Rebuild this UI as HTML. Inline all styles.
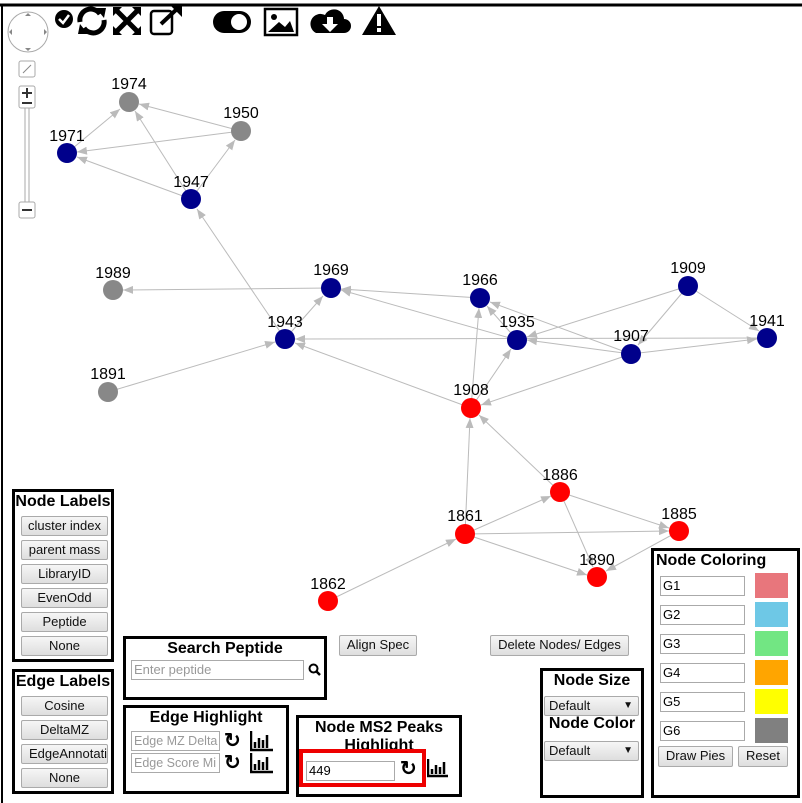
<!DOCTYPE html>
<html><head><style>
body{margin:0;width:802px;height:803px;overflow:hidden;background:#fff;font-family:"Liberation Sans",sans-serif;position:relative}
.box{position:absolute;border:3px solid #000;box-sizing:border-box;background:#fff}
.h{font-weight:bold;font-size:16px;text-align:center;color:#000}
.btn{position:absolute;background:linear-gradient(#f6f6f6,#dedede);border:1px solid #aaa;border-radius:2px;font-size:13px;text-align:center;line-height:18px;box-sizing:border-box;height:20px;color:#111;white-space:nowrap;overflow:hidden}
.inp{position:absolute;border:1px solid #aaa;box-sizing:border-box;height:20px;font-size:13px;line-height:18px;padding-left:2px;color:#999;background:#fff;white-space:nowrap;overflow:hidden}
.sw{position:absolute;width:33px;height:25px}
</style></head><body>
<svg width="802" height="803" style="position:absolute;left:0;top:0">
<defs><marker id="a" markerWidth="10" markerHeight="8" refX="10" refY="4" orient="auto" markerUnits="userSpaceOnUse"><path d="M0,0L10,4L0,8z" fill="#bbb"/></marker></defs>
<line x1="0" y1="5" x2="802" y2="5" stroke="#000" stroke-width="3"/>
<line x1="2" y1="5" x2="2" y2="803" stroke="#000" stroke-width="2"/>
<g stroke="#bbb" stroke-width="1" marker-end="url(#a)">
<line x1="67" y1="153" x2="120" y2="109"/>
<line x1="241" y1="131" x2="139" y2="104"/>
<line x1="241" y1="131" x2="77" y2="152"/>
<line x1="191" y1="199" x2="77" y2="157"/>
<line x1="191" y1="199" x2="135" y2="111"/>
<line x1="191" y1="199" x2="235" y2="140"/>
<line x1="285" y1="339" x2="197" y2="209"/>
<line x1="331" y1="288" x2="123" y2="290"/>
<line x1="285" y1="339" x2="323" y2="296"/>
<line x1="480" y1="298" x2="341" y2="289"/>
<line x1="517" y1="340" x2="341" y2="290"/>
<line x1="767" y1="338" x2="295" y2="339"/>
<line x1="631" y1="354" x2="527" y2="340"/>
<line x1="688" y1="286" x2="527" y2="337"/>
<line x1="688" y1="286" x2="638" y2="345"/>
<line x1="688" y1="286" x2="759" y2="331"/>
<line x1="631" y1="354" x2="757" y2="339"/>
<line x1="631" y1="354" x2="490" y2="302"/>
<line x1="517" y1="340" x2="487" y2="306"/>
<line x1="631" y1="354" x2="481" y2="405"/>
<line x1="471" y1="408" x2="511" y2="349"/>
<line x1="471" y1="408" x2="479" y2="308"/>
<line x1="471" y1="408" x2="295" y2="343"/>
<line x1="108" y1="392" x2="275" y2="342"/>
<line x1="465" y1="534" x2="470" y2="418"/>
<line x1="560" y1="492" x2="479" y2="415"/>
<line x1="465" y1="534" x2="551" y2="496"/>
<line x1="560" y1="492" x2="669" y2="528"/>
<line x1="560" y1="492" x2="593" y2="567"/>
<line x1="465" y1="534" x2="669" y2="531"/>
<line x1="465" y1="534" x2="587" y2="575"/>
<line x1="679" y1="531" x2="606" y2="571"/>
<line x1="328" y1="601" x2="456" y2="539"/>
</g>
<g>
<circle cx="129" cy="102" r="10" fill="#888"/><circle cx="241" cy="131" r="10" fill="#888"/>
<circle cx="67" cy="153" r="10" fill="#00008b"/><circle cx="191" cy="199" r="10" fill="#00008b"/>
<circle cx="113" cy="290" r="10" fill="#888"/><circle cx="331" cy="288" r="10" fill="#00008b"/>
<circle cx="480" cy="298" r="10" fill="#00008b"/><circle cx="688" cy="286" r="10" fill="#00008b"/>
<circle cx="767" cy="338" r="10" fill="#00008b"/><circle cx="285" cy="339" r="10" fill="#00008b"/>
<circle cx="517" cy="340" r="10" fill="#00008b"/><circle cx="631" cy="354" r="10" fill="#00008b"/>
<circle cx="108" cy="392" r="10" fill="#888"/><circle cx="471" cy="408" r="10" fill="#f00"/>
<circle cx="560" cy="492" r="10" fill="#f00"/><circle cx="679" cy="531" r="10" fill="#f00"/>
<circle cx="465" cy="534" r="10" fill="#f00"/><circle cx="597" cy="577" r="10" fill="#f00"/>
<circle cx="328" cy="601" r="10" fill="#f00"/>
</g>
<g font-family="Liberation Sans" font-size="16" text-anchor="middle" fill="#000">
<text x="129" y="89">1974</text><text x="241" y="118">1950</text><text x="67" y="141">1971</text>
<text x="191" y="187">1947</text><text x="113" y="278">1989</text><text x="331" y="275">1969</text>
<text x="480" y="285">1966</text><text x="688" y="273">1909</text><text x="767" y="326">1941</text>
<text x="285" y="327">1943</text><text x="517" y="327">1935</text><text x="631" y="341">1907</text>
<text x="108" y="379">1891</text><text x="471" y="395">1908</text><text x="560" y="480">1886</text>
<text x="679" y="519">1885</text><text x="465" y="521">1861</text><text x="597" y="565">1890</text>
<text x="328" y="589">1862</text>
</g>
<!-- navigator -->
<circle cx="28" cy="32" r="20" fill="#fff" stroke="#aaa"/>
<path d="M25,16L31,16L28,13z M25,48L31,48L28,51z M12,29L12,35L9,32z M44,29L44,35L47,32z" fill="#888"/>
<rect x="19" y="61" width="16" height="16" rx="2" fill="#fff" stroke="#aaa"/>
<path d="M23,73L31,65" stroke="#888"/>
<rect x="19" y="86" width="16" height="22" rx="2" fill="#fff" stroke="#aaa"/>
<path d="M22,93H32M27,88V98M22,103H32" stroke="#333" stroke-width="2"/>
<rect x="25" y="108" width="4" height="95" fill="#fff" stroke="#aaa"/>
<rect x="19" y="202" width="16" height="16" rx="2" fill="#fff" stroke="#aaa"/>
<path d="M22,210H32" stroke="#333" stroke-width="2"/>
<!-- toolbar icons -->
<circle cx="64" cy="19" r="9" fill="#000"/><path d="M59,19L63,23L69,15" stroke="#fff" stroke-width="2.5" fill="none"/>
<path d="M80,22A11,11 0 0 1 100,14M104,20A11,11 0 0 1 84,28" stroke="#000" stroke-width="5" fill="none"/>
<path d="M96,8L106,8L104,18z M88,34L78,34L80,24z" fill="#000"/>
<path d="M116,10L138,32M138,10L116,32" stroke="#000" stroke-width="5"/>
<path d="M113,7h9l-9,9z M141,7v9l-9,-9z M113,35v-9l9,9z M141,35h-9l9,-9z" fill="#000"/>
<rect x="151" y="11" width="21" height="23" rx="3" fill="none" stroke="#000" stroke-width="2.5"/>
<path d="M161,24L178,8" stroke="#000" stroke-width="4"/><path d="M170,5h12v12z" fill="#000"/>
<rect x="213" y="11" width="38" height="22" rx="11" fill="#000"/><circle cx="239" cy="22" r="8" fill="#fff"/>
<rect x="265" y="9" width="32" height="26" fill="none" stroke="#000" stroke-width="2.5"/>
<circle cx="274" cy="17" r="3" fill="#000"/><path d="M268,32L279,22L285,27L290,21L294,32z" fill="#000"/>
<path d="M316,33h28a7,7 0 0 0 0,-14a10,10 0 0 0 -19,-4a8,8 0 0 0 -9,18z" fill="#000"/>
<path d="M327,17h6v7h5l-8,8l-8,-8h5z" fill="#fff"/>
<path d="M379,6L396,35H362z" fill="#000"/><rect x="377" y="14" width="4" height="12" fill="#fff"/><rect x="377" y="28" width="4" height="4" fill="#fff"/>
</svg>

<div class="box" style="left:12px;top:489px;width:102px;height:173px">
<div class="h" style="margin-top:1px">Node Labels</div>
<div class="btn" style="left:6px;top:24px;width:87px">cluster index</div>
<div class="btn" style="left:6px;top:48px;width:87px">parent mass</div>
<div class="btn" style="left:6px;top:72px;width:87px">LibraryID</div>
<div class="btn" style="left:6px;top:96px;width:87px">EvenOdd</div>
<div class="btn" style="left:6px;top:120px;width:87px">Peptide</div>
<div class="btn" style="left:6px;top:144px;width:87px">None</div>
</div>
<div class="box" style="left:12px;top:669px;width:102px;height:125px">
<div class="h" style="margin-top:1px">Edge Labels</div>
<div class="btn" style="left:6px;top:24px;width:87px">Cosine</div>
<div class="btn" style="left:6px;top:48px;width:87px">DeltaMZ</div>
<div class="btn" style="left:6px;top:72px;width:87px;text-align:left;padding-left:7px">EdgeAnnotati</div>
<div class="btn" style="left:6px;top:96px;width:87px">None</div>
</div>
<div class="box" style="left:123px;top:636px;width:204px;height:64px">
<div class="h" style="margin-top:1px">Search Peptide</div>
<div class="inp" style="left:5px;top:21px;width:173px">Enter peptide</div>
<svg style="position:absolute;left:182px;top:24px" width="14" height="14"><circle cx="5.5" cy="5.5" r="4" fill="none" stroke="#000" stroke-width="2"/><path d="M8.5,8.5L12,12" stroke="#000" stroke-width="2.5"/></svg>
</div>
<div class="btn" style="left:339px;top:635px;width:78px;height:21px">Align Spec</div>
<div class="btn" style="left:490px;top:635px;width:139px;height:21px">Delete Nodes/ Edges</div>
<div class="box" style="left:123px;top:705px;width:166px;height:89px">
<div class="h" style="margin-top:1px">Edge Highlight</div>
<div class="inp" style="left:5px;top:23px;width:89px;font-size:12.5px">Edge MZ Delta</div>
<div class="inp" style="left:5px;top:45px;width:89px;font-size:12.5px">Edge Score Mi</div>
<div style="position:absolute;left:98px;top:20px;font-size:20px;font-weight:bold">&#x21bb;</div>
<div style="position:absolute;left:98px;top:42px;font-size:20px;font-weight:bold">&#x21bb;</div>
<svg style="position:absolute;left:124px;top:22px" width="24" height="44"><path d="M1,1V20H23M5,18V12M9,18V8M13,18V10M17,18V5M1,23V42H23M5,40V34M9,40V30M13,40V32M17,40V27" stroke="#000" stroke-width="2.5" fill="none"/></svg>
</div>
<div class="box" style="left:296px;top:715px;width:166px;height:82px">
<div class="h" style="margin-top:1px;line-height:18px">Node MS2 Peaks<br>Highlight</div>
<div style="position:absolute;left:0px;top:31px;width:127px;height:38px;border:4px solid #e00;box-sizing:border-box;background:#fff">
<div class="inp" style="left:3px;top:8px;width:89px;color:#000">449</div>
<div style="position:absolute;left:97px;top:3px;font-size:20px;font-weight:bold">&#x21bb;</div>
</div>
<svg style="position:absolute;left:128px;top:40px" width="22" height="20"><path d="M1,1V18H21M5,16V11M9,16V7M13,16V9M17,16V4" stroke="#000" stroke-width="2.5" fill="none"/></svg>
</div>
<div class="box" style="left:540px;top:668px;width:104px;height:130px">
<div class="h" style="margin-top:1px">Node Size</div>
<div class="btn" style="left:1px;top:25px;width:95px;text-align:left;padding-left:4px">Default<span style="position:absolute;right:5px;font-size:10px">&#9660;</span></div>
<div class="h" style="margin-top:25px">Node Color</div>
<div class="btn" style="left:1px;top:70px;width:95px;text-align:left;padding-left:4px">Default<span style="position:absolute;right:5px;font-size:10px">&#9660;</span></div>
</div>
<div class="box" style="left:651px;top:548px;width:149px;height:250px">
<div class="h" style="text-align:left;padding-left:2px;margin-top:1px">Node Coloring</div>
<div class="inp" style="left:6px;top:25px;width:85px;color:#000">G1</div><div class="sw" style="left:101px;top:22px;background:#e8767c"></div>
<div class="inp" style="left:6px;top:54px;width:85px;color:#000">G2</div><div class="sw" style="left:101px;top:51px;background:#6ec8e6"></div>
<div class="inp" style="left:6px;top:83px;width:85px;color:#000">G3</div><div class="sw" style="left:101px;top:80px;background:#72e683"></div>
<div class="inp" style="left:6px;top:112px;width:85px;color:#000">G4</div><div class="sw" style="left:101px;top:109px;background:#ffa500"></div>
<div class="inp" style="left:6px;top:141px;width:85px;color:#000">G5</div><div class="sw" style="left:101px;top:138px;background:#ffff00"></div>
<div class="inp" style="left:6px;top:170px;width:85px;color:#000">G6</div><div class="sw" style="left:101px;top:167px;background:#808080"></div>
<div class="btn" style="left:4px;top:195px;width:75px;height:21px">Draw Pies</div>
<div class="btn" style="left:84px;top:195px;width:50px;height:21px">Reset</div>
</div>
</body></html>
